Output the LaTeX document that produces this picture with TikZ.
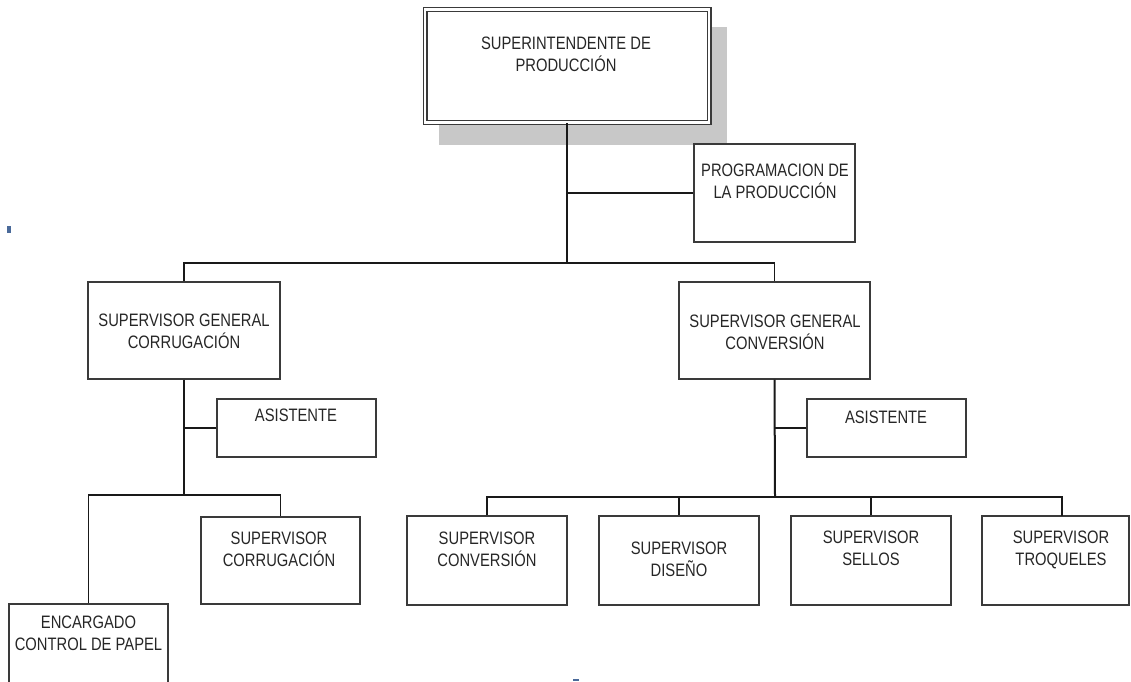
\documentclass[tikz,border=0pt]{standalone}
\usepackage{fontspec}
\setmainfont{Liberation Sans}[FakeStretch=0.82]
\definecolor{inkgray}{HTML}{262626}
\definecolor{framegray}{HTML}{3A3A3A}
\definecolor{shadowgray}{HTML}{C8C8C8}
\definecolor{speck}{HTML}{4A6A9A}
\begin{document}
\begin{tikzpicture}[x=1pt,y=-1pt,
  box/.style={rectangle, draw=framegray, line width=1.3pt, fill=white, inner sep=0pt},
  topbox/.style={rectangle, draw=framegray, line width=1.2pt, double=white, double distance=2.6pt, fill=white, inner sep=0pt},
  lbl/.style={anchor=north, align=center, inner sep=0pt, text=inkgray, font=\fontsize{18}{22}\selectfont},
  wire/.style={draw=black!90, line width=1.5pt},
]
\useasboundingbox (0,0) rectangle (1131,681);

% shadow behind the head box
\fill[shadowgray] (439,27) rectangle (727,145);

% boxes
\node[topbox, minimum width=284pt, minimum height=113pt] (top) at (567,66) {};
\node[box, minimum width=161pt, minimum height=98pt] (prog) at (774.5,193) {};
\node[box, minimum width=192pt, minimum height=97pt] (sgcorr) at (184,330.5) {};
\node[box, minimum width=191pt, minimum height=97pt] (sgconv) at (774.5,330.5) {};
\node[box, minimum width=159pt, minimum height=58pt] (asisL) at (296.5,428) {};
\node[box, minimum width=159pt, minimum height=58pt] (asisR) at (886.5,428) {};
\node[box, minimum width=159pt, minimum height=87pt] (sc) at (280.5,560.5) {};
\node[box, minimum width=159pt, minimum height=96pt] (enc) at (88.5,652) {};
\node[box, minimum width=160pt, minimum height=89pt] (sconv) at (487,560.5) {};
\node[box, minimum width=160pt, minimum height=89pt] (dis) at (679,560.5) {};
\node[box, minimum width=160pt, minimum height=89pt] (sel) at (871,560.5) {};
\node[box, minimum width=147pt, minimum height=89pt] (tro) at (1055.5,560.5) {};

% junction points of the connector lines
\coordinate (bus1) at (567,263);
\coordinate (bus2) at (184,495);
\coordinate (bus3) at (775,497);
\coordinate (troin) at (1062,516);

% connectors
\draw[wire, line width=2.2pt] (top.south) -- (bus1);
\draw[wire] (prog.west) -- (prog.west -| top.south);
\draw[wire] (sgcorr.north) -- (sgcorr.north |- bus1) -- (sgconv.north |- bus1) -- (sgconv.north);

\draw[wire] (sgcorr.south) -- (bus2);
\draw[wire] (asisL.west) -- (asisL.west -| bus2);
\draw[wire] (enc.north) -- (enc.north |- bus2) -- (sc.north |- bus2) -- (sc.north);

\draw[wire, line width=2pt] (sgconv.south) -- (bus3);
\draw[wire] (asisR.west) -- (asisR.west -| bus3);
\draw[wire] (sconv.north) -- (sconv.north |- bus3) -- (troin |- bus3) -- (troin);
\draw[wire] (dis.north) -- (dis.north |- bus3);
\draw[wire] (sel.north) -- (sel.north |- bus3);

% labels
\node[lbl] (tTop) at (566,36.5) {SUPERINTENDENTE DE\\PRODUCCIÓN};
\node[lbl] (tProg) at (775,163.5) {PROGRAMACION DE\\LA PRODUCCIÓN};
\node[lbl] (tSgcorr) at (184,313.5) {SUPERVISOR GENERAL\\CORRUGACIÓN};
\node[lbl] (tSgconv) at (775,314.5) {SUPERVISOR GENERAL\\CONVERSIÓN};
\node[lbl] (tAsisL) at (296,408.5) {ASISTENTE};
\node[lbl] (tAsisR) at (886,410.5) {ASISTENTE};
\node[lbl] (tSc) at (279,531.5) {SUPERVISOR\\CORRUGACIÓN};
\node[lbl] (tEnc) at (88.5,615.5) {ENCARGADO\\CONTROL DE PAPEL};
\node[lbl] (tSconv) at (487,531.5) {SUPERVISOR\\CONVERSIÓN};
\node[lbl] (tDis) at (679,541.5) {SUPERVISOR\\DISEÑO};
\node[lbl] (tSel) at (871,530.5) {SUPERVISOR\\SELLOS};
\node[lbl] (tTro) at (1061,530.5) {SUPERVISOR\\TROQUELES};

% small stray marks
\fill[speck] (7,226) rectangle (11,233);
\fill[speck] (573,679) rectangle (579,681);
\end{tikzpicture}
\end{document}
